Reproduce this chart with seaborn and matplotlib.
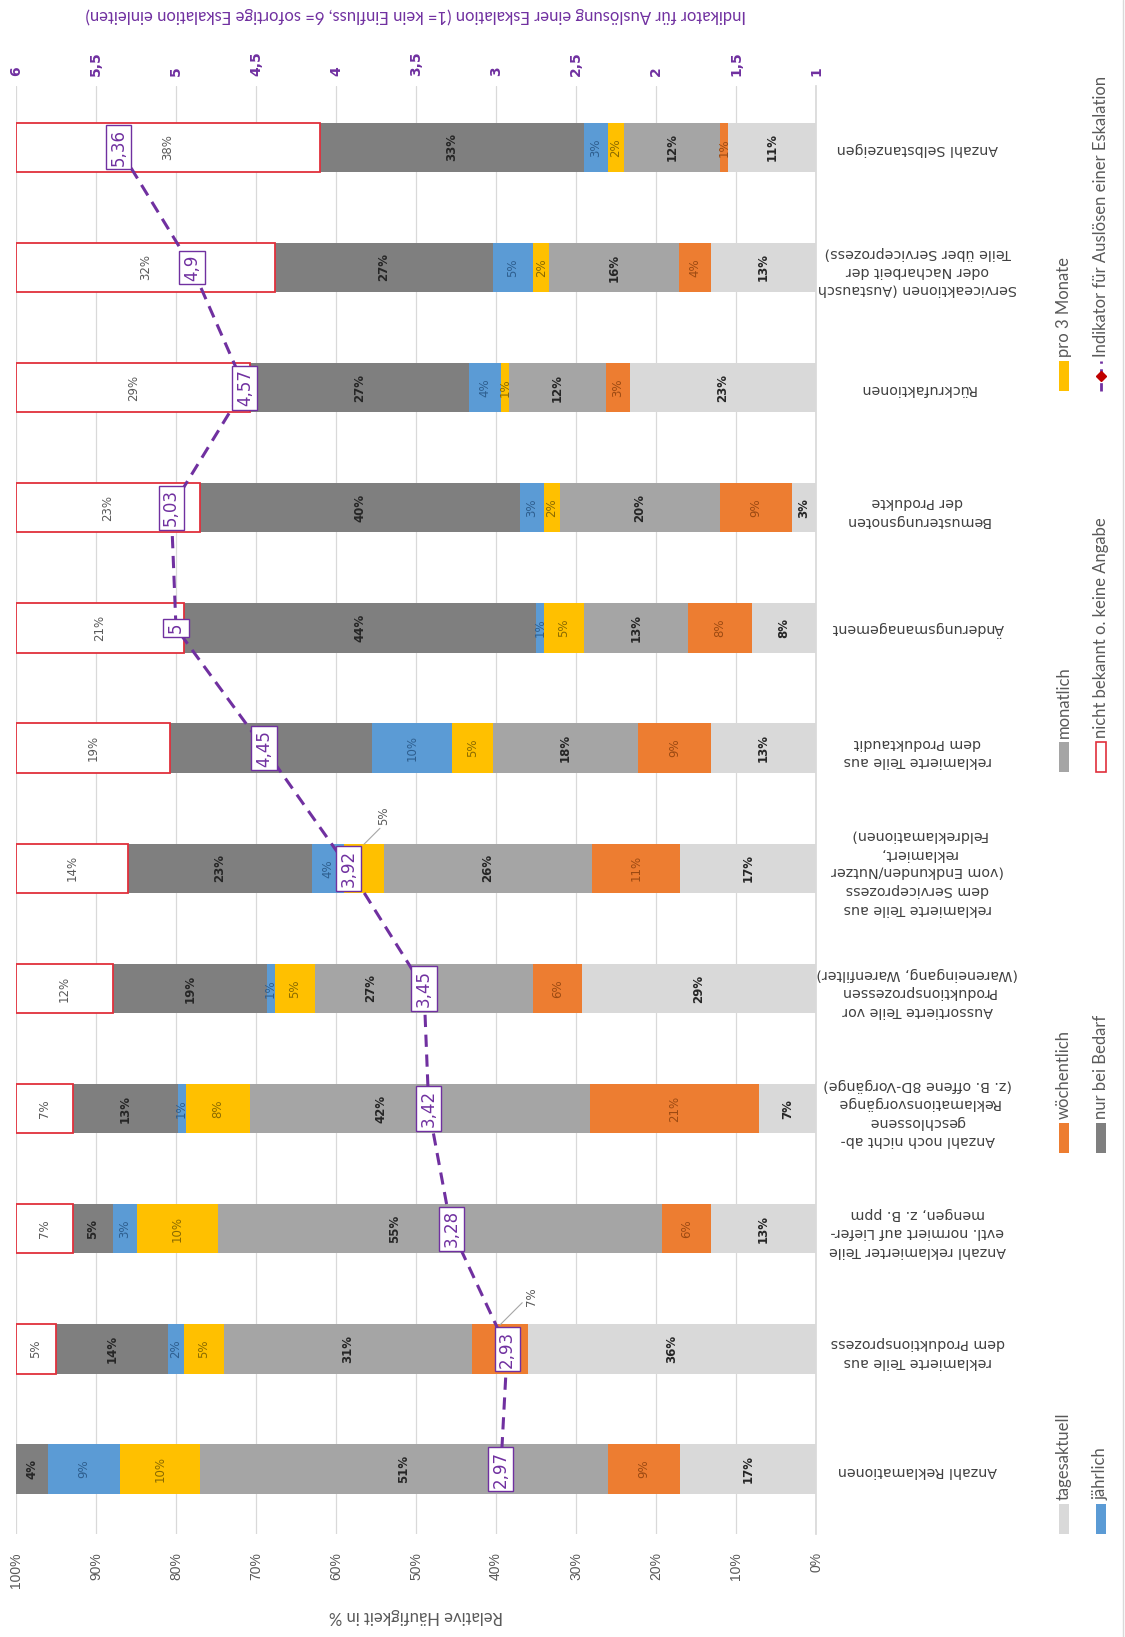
import numpy as np
import pandas as pd
import seaborn as sns
import matplotlib.pyplot as plt
from matplotlib.patches import Rectangle
from matplotlib.lines import Line2D

# categories from bottom to top of the (rotated) chart
categories = [
    'Anzahl Reklamationen',
    'reklamierte Teile aus\ndem Produktionsprozess',
    'Anzahl reklamierter Teile\nevtl. normiert auf Liefer-\nmengen, z. B. ppm',
    'Anzahl noch nicht ab-\ngeschlossene\nReklamationsvorgänge\n(z. B. offene 8D\u2011Vorgänge)',
    'Aussortierte Teile vor\nProduktionsprozessen\n(Wareneingang, Warenfilter)',
    'reklamierte Teile aus\ndem Serviceprozess\n(vom Endkunden/Nutzer\nreklamiert,\nFeldreklamationen)',
    'reklamierte Teile aus\ndem Produktaudit',
    'Änderungsmanagement',
    'Bemusterungsnoten\nder Produkte',
    'Rückrufaktionen',
    'Serviceaktionen (Austausch\noder Nacharbeit der\nTeile über Serviceprozess)',
    'Anzahl Selbstanzeigen',
]

series_names = ['tagesaktuell', 'wöchentlich', 'monatlich', 'pro 3 Monate',
                'jährlich', 'nur bei Bedarf', 'nicht bekannt o. keine Angabe']

tagesaktuell = [17, 36, 13, 7, 29, 17, 13, 8, 3, 23, 13, 11]
woechentlich = [9, 7, 6, 21, 6, 11, 9, 8, 9, 3, 4, 1]
monatlich = [51, 31, 55, 42, 27, 26, 18, 13, 20, 12, 16, 12]
pro_3_monate = [10, 5, 10, 8, 5, 5, 5, 5, 2, 1, 2, 2]
jaehrlich = [9, 2, 3, 1, 1, 4, 10, 1, 3, 4, 5, 3]
nur_bei_bedarf = [4, 14, 5, 13, 19, 23, 25, 44, 40, 27, 27, 33]
nicht_bekannt = [0, 5, 7, 7, 12, 14, 19, 21, 23, 29, 32, 38]

indikator = [2.97, 2.93, 3.28, 3.42, 3.45, 3.92, 4.45, 5.00, 5.03, 4.57, 4.90, 5.36]

pct_ticks = [0, 10, 20, 30, 40, 50, 60, 70, 80, 90, 100]
ind_ticks = [1, 1.5, 2, 2.5, 3, 3.5, 4, 4.5, 5, 5.5, 6]

colors = ['#d9d9d9', '#ed7d31', '#a5a5a5', '#ffc000', '#5b9bd5', '#7f7f7f', 'white']
label_colors = ['#262626', '#9c4a12', '#262626', '#8a6a00', '#2e5e8e', '#262626', '#595959']
label_bold = [True, False, True, False, False, True, False]
purple = '#7030a0'
red = '#e0303c'

sns.set_theme(style='white')
plt.rcParams['font.family'] = ['DejaVu Sans']

df = pd.DataFrame({
    series_names[0]: tagesaktuell,
    series_names[1]: woechentlich,
    series_names[2]: monatlich,
    series_names[3]: pro_3_monate,
    series_names[4]: jaehrlich,
    series_names[5]: nur_bei_bedarf,
    series_names[6]: nicht_bekannt,
}, index=categories)
# rounded labels do not always add to 100, the bars do
shares = df.div(df.sum(axis=1), axis=0) * 100

W, H = 1125, 1637
fig = plt.figure(figsize=(W / 100, H / 100), dpi=100)
ax = fig.add_axes([16 / W, 1 - 1534 / H, 800 / W, (1534 - 86) / H])

pos = np.arange(len(categories))
left = np.zeros(len(categories))
# labels pulled out of the bar with a leader line
callouts = {(1, 1): (35.5, 0.36), (5, 3): (54.0, 0.36)}
# labels moved aside so the indicator box does not cover them
shifted = {(2, 2): 52.7, (3, 2): 54.4, (4, 2): 55.7}
for k, name in enumerate(series_names):
    vals = shares[name].values
    edges = [red if (k == 6 and v > 0) else 'none' for v in vals]
    ax.barh(pos, vals, left=left, height=0.41, color=colors[k],
            edgecolor=edges, linewidth=1.3 if k == 6 else 0, zorder=2)
    for i, v in enumerate(df[name].values):
        if v == 0:
            continue
        mid = left[i] + vals[i] / 2
        txt = f'{v}%'
        kw = dict(rotation=90, fontsize=8.5, color=label_colors[k],
                  fontweight='bold' if label_bold[k] else 'normal')
        if (i, k) in callouts:
            tx, dy = callouts[(i, k)]
            ax.annotate(txt, xy=(mid, pos[i] + 0.2), xytext=(tx, pos[i] + dy),
                        ha='center', va='bottom', zorder=5,
                        arrowprops=dict(arrowstyle='-', color='#a6a6a6', lw=0.8,
                                        shrinkA=0, shrinkB=0,
                                        connectionstyle='angle,angleA=0,angleB=45'),
                        **{**kw, 'color': '#595959', 'fontweight': 'normal'})
        else:
            ax.text(shifted.get((i, k), mid), pos[i], txt, ha='center', va='center',
                    zorder=3, **kw)
    left += vals

ax.set_xlim(100, 0)
ax.set_ylim(-0.54, 11.51)
ax.set_xticks(pct_ticks)
ax.set_xticklabels([f'{t}%' for t in pct_ticks], rotation=90, color='#595959',
                   fontsize=10, family='Liberation Sans')
ax.tick_params(axis='x', length=0, pad=13)
ax.grid(axis='x', color='#d9d9d9', lw=0.9)
ax.set_axisbelow(True)
for s in ['top', 'left', 'bottom']:
    ax.spines[s].set_visible(False)
ax.spines['right'].set_color('#d9d9d9')
ax.set_xlabel('Relative Häufigkeit in %', rotation=180, color='#595959',
              fontsize=12, family='Lato', labelpad=15)

ax.yaxis.tick_right()
ax.set_yticks(pos)
ax.set_yticklabels(categories)
ax.tick_params(axis='y', length=0, pad=73)
for lbl in ax.get_yticklabels():
    lbl.set_rotation(180)
    lbl.set_ha('center')
    lbl.set_multialignment('center')
    lbl.set_fontsize(10.3)
    lbl.set_color('#404040')
    lbl.set_linespacing(1.4)

# indicator on the second scale
ax2 = ax.twiny()
sns.lineplot(x=indikator, y=pos, orient='y', ax=ax2, color=purple, lw=2.2,
             linestyle=(0, (4, 2.5)), marker='D', markersize=5,
             markerfacecolor='#c00000', markeredgecolor='#c00000', zorder=4)
for v, p in zip(indikator, pos):
    ax2.text(v, p, f'{v:g}'.replace('.', ','), rotation=90, ha='center', va='center',
             fontsize=12, color=purple, zorder=6,
             bbox=dict(boxstyle='square,pad=0.22', fc='white', ec=purple, lw=1))
ax2.set_xlim(6, 1)
ax2.set_xticks(ind_ticks)
ax2.set_xticklabels([f'{t:g}'.replace('.', ',') for t in ind_ticks], rotation=90,
                    color=purple, fontsize=10, fontweight='bold')
ax2.tick_params(axis='x', length=0, pad=7)
for s in ax2.spines.values():
    s.set_visible(False)
ax2.set_xlabel('Indikator für Auslösung einer Eskalation (1= kein Einfluss, 6= sofortige Eskalation einleiten)',
               rotation=180, color=purple, fontsize=12, family='Lato', labelpad=22)

# legend, rotated like the rest of the chart
leg_cols = [1064, 1101]
leg_rows = [1534, 1153, 772, 391]
entries = [(0, 0, 0), (0, 1, 1), (0, 2, 2), (0, 3, 3),
           (1, 0, 4), (1, 1, 5), (1, 2, 6)]
for c, r, k in entries:
    x, y = leg_cols[c], leg_rows[r]
    fig.add_artist(Rectangle(((x - 5) / W, 1 - y / H), 10 / W, 30 / H,
                             transform=fig.transFigure, facecolor=colors[k],
                             edgecolor=red if k == 6 else 'none', lw=1.2))
    fig.text(x / W, 1 - (y - 34) / H, series_names[k], rotation=90, ha='center',
             va='bottom', fontsize=12, family='Lato', color='#595959')
x, y = leg_cols[1], leg_rows[3]
fig.add_artist(Line2D([x / W, x / W], [1 - y / H, 1 - (y - 30) / H], transform=fig.transFigure,
                      color=purple, lw=2, linestyle=(0, (3, 2))))
fig.add_artist(Line2D([x / W], [1 - (y - 15) / H], transform=fig.transFigure,
                      marker='D', markersize=5, color='#c00000'))
fig.text(x / W, 1 - (y - 34) / H, 'Indikator für Auslösen einer Eskalation', rotation=90,
         ha='center', va='bottom', fontsize=12, family='Lato', color='#595959')

fig.add_artist(Line2D([0.9985, 0.9985], [0, 1], transform=fig.transFigure,
                      color='#d9d9d9', lw=1))

fig.savefig('out.png', dpi=100)
